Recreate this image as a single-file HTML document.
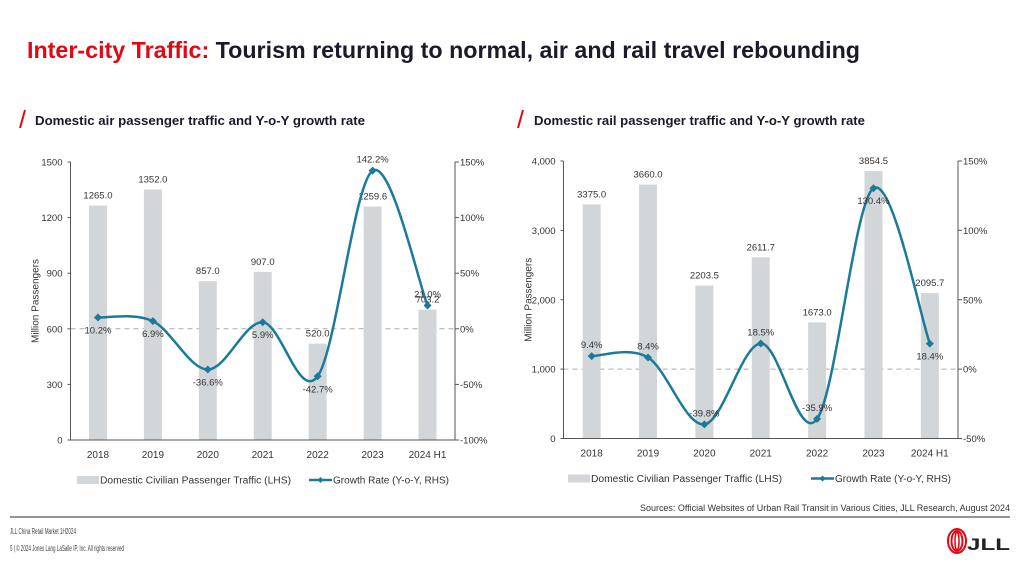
<!DOCTYPE html>
<html><head><meta charset="utf-8"><style>
body{margin:0;background:#fff;}
svg{display:block;font-family:"Liberation Sans",sans-serif;}
</style></head><body>
<svg id="s" width="1024" height="576" viewBox="0 0 1024 576">
<text x="27" y="58" font-size="23" font-weight="bold" textLength="833" lengthAdjust="spacingAndGlyphs"><tspan fill="#e30613">Inter-city Traffic:</tspan><tspan fill="#1a1a2a"> Tourism returning to normal, air and rail travel rebounding</tspan></text>
<line x1="20" y1="128" x2="25" y2="110" stroke="#e30613" stroke-width="2"/>
<text x="35" y="125" font-size="13" font-weight="bold" fill="#1a1a2a" textLength="330" lengthAdjust="spacingAndGlyphs">Domestic air passenger traffic and Y-o-Y growth rate</text>
<line x1="518" y1="128" x2="523" y2="110" stroke="#e30613" stroke-width="2"/>
<text x="534" y="125" font-size="13" font-weight="bold" fill="#1a1a2a" textLength="331" lengthAdjust="spacingAndGlyphs">Domestic rail passenger traffic and Y-o-Y growth rate</text>
<g id="air"></g>
<g id="rail"></g>
<text x="1010" y="511" font-size="9" fill="#333" text-anchor="end" textLength="370" lengthAdjust="spacingAndGlyphs">Sources: Official Websites of Urban Rail Transit in Various Cities, JLL Research, August 2024</text>
<line x1="10" y1="517" x2="1010" y2="517" stroke="#555" stroke-width="1.2"/>
<text x="10" y="534" font-size="8" fill="#444" textLength="66" lengthAdjust="spacingAndGlyphs">JLL China Retail Market 1H2024</text>
<text x="10" y="551" font-size="8" fill="#444" textLength="114" lengthAdjust="spacingAndGlyphs">5 | © 2024 Jones Lang LaSalle IP, Inc. All rights reserved</text>
<g>
<ellipse cx="957" cy="541" rx="9" ry="12" fill="none" stroke="#e30613" stroke-width="2"/>
<ellipse cx="957" cy="541" rx="5.5" ry="10" fill="none" stroke="#e30613" stroke-width="2"/>
<ellipse cx="957" cy="541" rx="2" ry="9" fill="none" stroke="#e30613" stroke-width="1.5"/>
<text x="967" y="550" font-size="17" font-weight="bold" fill="#222" textLength="43" lengthAdjust="spacingAndGlyphs">JLL</text>
</g>
</svg>
<script>
const airCategories=["2018","2019","2020","2021","2022","2023","2024 H1"];
const airTraffic=[1265.0,1352.0,857.0,907.0,520.0,1259.6,703.2];
const airGrowth=[10.2,6.9,-36.6,5.9,-42.7,142.2,21.0];
const airGrowthLabelSide=["b","b","b","b","b","a","a"];
const airLeftTicks=[0,300,600,900,1200,1500];
const airRightTicks=[-100,-50,0,50,100,150];
const railCategories=["2018","2019","2020","2021","2022","2023","2024 H1"];
const railTraffic=[3375.0,3660.0,2203.5,2611.7,1673.0,3854.5,2095.7];
const railGrowth=[9.4,8.4,-39.8,18.5,-35.9,130.4,18.4];
const railGrowthLabelSide=["a","a","a","a","a","b","b"];
const railLeftTicks=[0,1000,2000,3000,4000];
const railRightTicks=[-50,0,50,100,150];
const NS="http://www.w3.org/2000/svg";
function mk(p,t,a){const e=document.createElementNS(NS,t);for(const k in a)e.setAttribute(k,a[k]);p.appendChild(e);return e;}
function draw(g,o){
 const {x0,x1,y0,y1,cats,bars,growth,side,lt,rt,fmtL,legX}=o;
 const lmax=lt[lt.length-1],rmin=rt[0],rmax=rt[rt.length-1];
 const yL=v=>y0-(v/lmax)*(y0-y1);
 const yR=v=>y0-(v-rmin)/(rmax-rmin)*(y0-y1);
 const bw=(x1-x0)/cats.length;
 const xC=i=>x0+bw*(i+0.5);
 // zero line
 let z=mk(g,"line",{x1:x0,x2:x1,y1:yR(0),y2:yR(0),stroke:"#aaa","stroke-dasharray":"5,4","stroke-width":1});
 
 bars.forEach((v,i)=>{
  const r=mk(g,"rect",{x:xC(i)-9,y:yL(v),width:18,height:y0-yL(v),fill:"#d3d6d8"});
  
  
  const t=mk(g,"text",{x:xC(i),y:yL(v)-7,"font-size":9.5,fill:"#333","text-anchor":"middle"});t.textContent=v.toFixed(1);
  
 });
 // axes
 let a=mk(g,"line",{x1:x0,x2:x0,y1:y1,y2:y0,stroke:"#555"});
 a=mk(g,"line",{x1:x1,x2:x1,y1:y1,y2:y0,stroke:"#555"});
 a=mk(g,"line",{x1:x0-3,x2:x1,y1:y0,y2:y0,stroke:"#555"});
 lt.forEach(v=>{mk(g,"line",{x1:x0-3,x2:x0,y1:yL(v),y2:yL(v),stroke:"#555"});
  const t=mk(g,"text",{x:x0-8,y:yL(v)+3.5,"font-size":9.5,fill:"#333","text-anchor":"end"});t.textContent=fmtL(v);
  });
 rt.forEach(v=>{mk(g,"line",{x1:x1,x2:x1+4,y1:yR(v),y2:yR(v),stroke:"#555"});
  const t=mk(g,"text",{x:x1+5,y:yR(v)+3.5,"font-size":9.5,fill:"#333"});t.textContent=v+"%";
  });
 cats.forEach((c,i)=>{const t=mk(g,"text",{x:xC(i),y:y0+18,"font-size":10,fill:"#333","text-anchor":"middle"});t.textContent=c;
  });
 const yt=mk(g,"text",{x:0,y:0,"font-size":10,fill:"#333","text-anchor":"middle",transform:`translate(${x0-32},${(y0+y1)/2}) rotate(-90)`});
 yt.textContent="Million Passengers";
 // smooth line (Catmull-Rom)
 const P=growth.map((v,i)=>[xC(i),yR(v)]);
 let d="M"+P[0][0]+","+P[0][1];
 for(let i=0;i<P.length-1;i++){const p0=P[i-1]||P[i],p1=P[i],p2=P[i+1],p3=P[i+2]||P[i+1];const k=1/6;
  d+=` C${p1[0]+(p2[0]-p0[0])*k},${p1[1]+(p2[1]-p0[1])*k} ${p2[0]-(p3[0]-p1[0])*k},${p2[1]-(p3[1]-p1[1])*k} ${p2[0]},${p2[1]}`;}
 const ln=mk(g,"path",{d:d,fill:"none",stroke:"#1b7a9a","stroke-width":2.5});
 
 P.forEach((p,i)=>{const m=mk(g,"path",{d:`M${p[0]},${p[1]-4}L${p[0]+4},${p[1]}L${p[0]},${p[1]+4}L${p[0]-4},${p[1]}Z`,fill:"#1b7a9a"});
  
  const t=mk(g,"text",{x:p[0],y:side[i]=="a"?p[1]-8:p[1]+16,"font-size":9.5,fill:"#333","text-anchor":"middle"});
  t.textContent=growth[i].toFixed(1)+"%";});
 // legend
 const ly=y0+40;
 let r=mk(g,"rect",{x:legX[0],y:ly-4,width:22,height:8,fill:"#d3d6d8"});
 let t=mk(g,"text",{x:legX[0]+23,y:ly+3.5,"font-size":10,fill:"#333",textLength:191,lengthAdjust:"spacingAndGlyphs"});t.textContent="Domestic Civilian Passenger Traffic (LHS)";
 
 r=mk(g,"line",{x1:legX[1],x2:legX[1]+23,y1:ly,y2:ly,stroke:"#1b7a9a","stroke-width":2.5});
 mk(g,"path",{d:`M${legX[1]+11.5},${ly-3}l3,3l-3,3l-3,-3z`,fill:"#1b7a9a"});
 t=mk(g,"text",{x:legX[1]+24,y:ly+3.5,"font-size":10,fill:"#333",textLength:116,lengthAdjust:"spacingAndGlyphs"});t.textContent="Growth Rate (Y-o-Y, RHS)";
 
}
draw(document.getElementById("air"),{x0:70.5,x1:455,y0:440,y1:162,cats:airCategories,bars:airTraffic,growth:airGrowth,side:airGrowthLabelSide,lt:airLeftTicks,rt:airRightTicks,fmtL:v=>String(v),legX:[77,309]});
draw(document.getElementById("rail"),{x0:563.5,x1:958,y0:438.5,y1:161,cats:railCategories,bars:railTraffic,growth:railGrowth,side:railGrowthLabelSide,lt:railLeftTicks,rt:railRightTicks,fmtL:v=>v.toLocaleString("en-US"),legX:[568,811]});
</script>
</body></html>
